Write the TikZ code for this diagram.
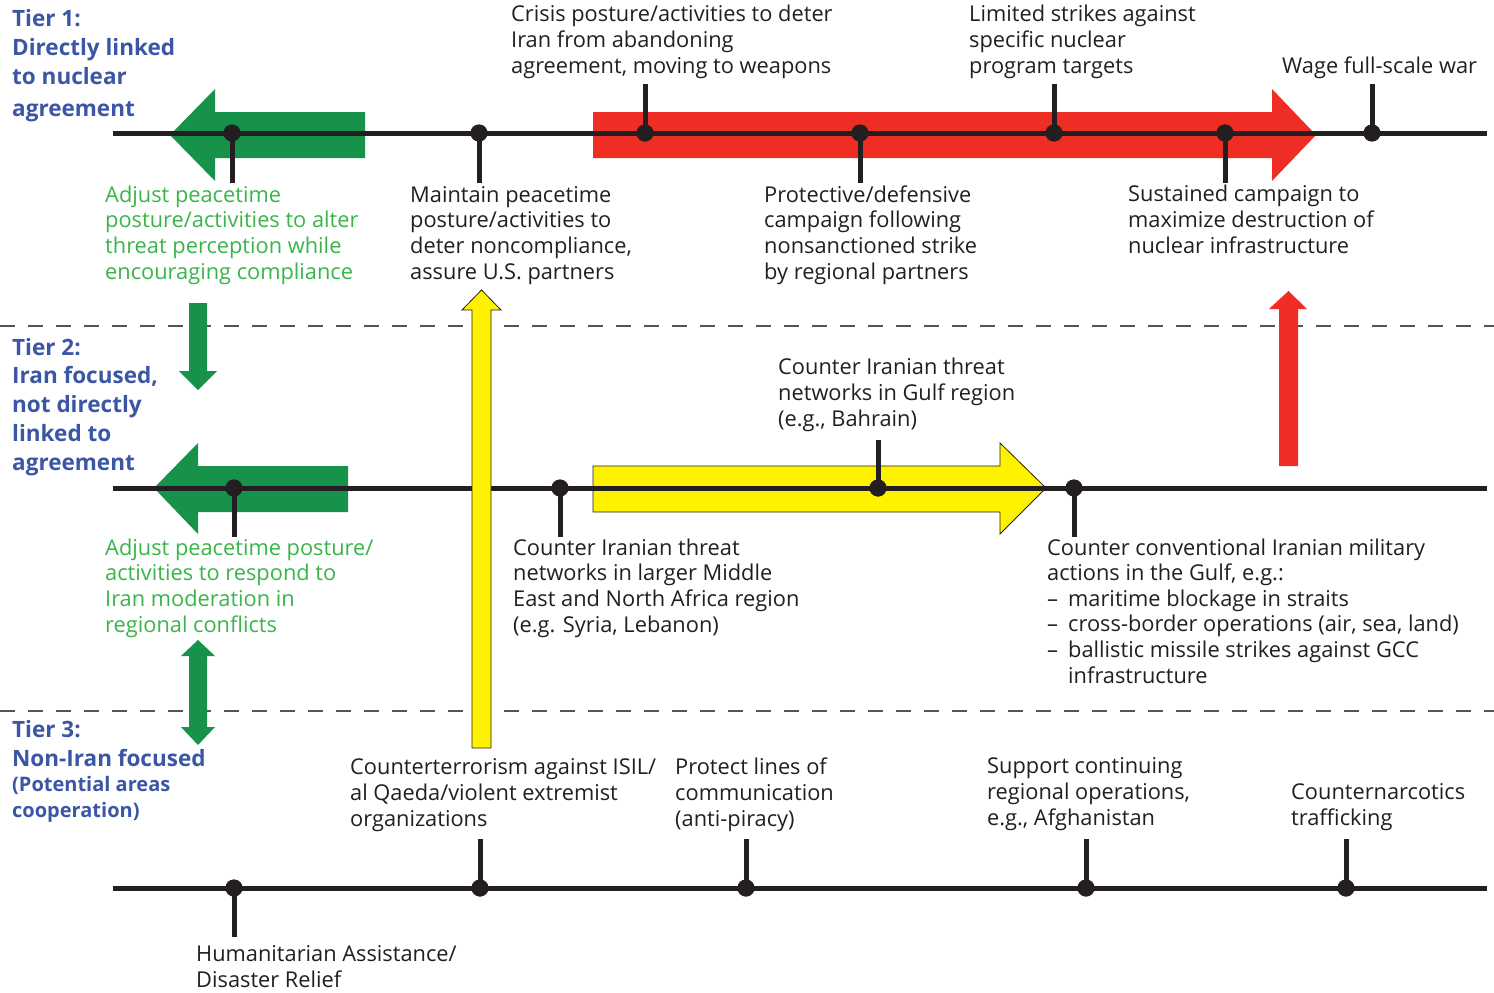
\documentclass[tikz,border=0pt]{standalone}
\usepackage{fontspec}
\setmainfont{Open Sans}
\definecolor{ink}{HTML}{231F20}
\definecolor{gfill}{HTML}{17924A}
\definecolor{gtext}{HTML}{3AB54A}
\definecolor{rfill}{HTML}{EE2D24}
\definecolor{yfill}{HTML}{FFF200}
\definecolor{tblue}{HTML}{3C56A6}
\definecolor{dgray}{HTML}{555555}
\begin{document}
\begin{tikzpicture}[x=1pt,y=-1pt,
  tline/.style={line width=5pt, draw=ink},
  stemline/.style={line width=5pt, draw=ink},
  dot/.style={circle, fill=ink, inner sep=0pt, minimum size=17pt},
  sep/.style={draw=dgray, line width=1.5pt, dash pattern=on 15pt off 13pt},
  lbl/.style={anchor=base west, align=left, inner sep=0pt, text=ink,
    font=\fontsize{21.8}{25.6}\selectfont},
  glbl/.style={lbl, text=gtext},
  tier/.style={anchor=base west, align=left, inner sep=0pt, text=tblue,
    font=\bfseries\fontsize{22.5}{28.7}\selectfont},
  tiersmall/.style={anchor=base west, align=left, inner sep=0pt, text=tblue,
    font=\bfseries\fontsize{20}{25.5}\selectfont},
  garrow/.style={fill=gfill, draw=none},
  rarrow/.style={fill=rfill, draw=none},
  yarrow/.style={fill=yfill, draw=ink, line width=0.8pt},
]
\useasboundingbox (0,0) rectangle (1494,993);
\fill[white] (0,0) rectangle (1494,993);

% separators
\coordinate (s1a) at (0,326); \coordinate (s1b) at (1494,326);
\coordinate (s2a) at (0,711); \coordinate (s2b) at (1494,711);
\draw[sep] (s1a) -- (s1b);
\draw[sep] (s2a) -- (s2b);

% horizontal band arrows
\path[garrow] (365,112) -- (215,112) -- (215,89) -- (170,135) -- (215,181) -- (215,158) -- (365,158) -- cycle;
\path[rarrow] (593,112) -- (1272,112) -- (1272,89) -- (1316,135) -- (1272,181) -- (1272,158) -- (593,158) -- cycle;
\path[garrow] (348,466) -- (198,466) -- (198,443) -- (154,488) -- (198,534) -- (198,512) -- (348,512) -- cycle;
\path[yarrow] (593,466) -- (1000,466) -- (1000,443) -- (1046,488) -- (1000,534) -- (1000,512) -- (593,512) -- cycle;

% timelines
\coordinate (t1a) at (113,133); \coordinate (t1b) at (1487,133);
\coordinate (t2a) at (113,488); \coordinate (t2b) at (1487,488);
\coordinate (t3a) at (113,888); \coordinate (t3b) at (1487,888);
\draw[tline] (t1a) -- (t1b);
\draw[tline] (t2a) -- (t2b);
\draw[tline] (t3a) -- (t3b);

% vertical arrows
\path[yarrow] (472,748) -- (472,310) -- (462,310) -- (481.5,290) -- (501,310) -- (491,310) -- (491,748) -- cycle;
\path[rarrow] (1279,466) -- (1279,309) -- (1269,309) -- (1288.5,291) -- (1307,309) -- (1298,309) -- (1298,466) -- cycle;
\path[garrow] (189,303) -- (189,371) -- (179,371) -- (198,390) -- (217,371) -- (207,371) -- (207,303) -- cycle;
\path[garrow] (189,656) -- (181,656) -- (198,640) -- (215,656) -- (207,656) -- (207,727) -- (215,727) -- (198,745) -- (181,727) -- (189,727) -- cycle;

% tier 1 dots
\node[dot] (a1) at (232,133) {};
\node[dot] (a2) at (479,133) {};
\node[dot] (a3) at (645,133) {};
\node[dot] (a4) at (860,133) {};
\node[dot] (a5) at (1054,133) {};
\node[dot] (a6) at (1225,133) {};
\node[dot] (a7) at (1372,133) {};
\coordinate (e1) at (232,183);
\coordinate (e2) at (479,183);
\coordinate (e3) at (645,84);
\coordinate (e4) at (860,183);
\coordinate (e5) at (1054,84);
\coordinate (e6) at (1225,183);
\coordinate (e7) at (1372,84);
\foreach \i in {1,...,7} \draw[stemline] (a\i.center) -- (e\i);

% tier 2 dots
\node[dot] (b1) at (234,488) {};
\node[dot] (b2) at (560,488) {};
\node[dot] (b3) at (878,488) {};
\node[dot] (b4) at (1074,488) {};
\coordinate (f1) at (234,537);
\coordinate (f2) at (560,537);
\coordinate (f3) at (878,440);
\coordinate (f4) at (1074,537);
\foreach \i in {1,...,4} \draw[stemline] (b\i.center) -- (f\i);

% tier 3 dots
\node[dot] (c1) at (234,888) {};
\node[dot] (c2) at (480,888) {};
\node[dot] (c3) at (746,888) {};
\node[dot] (c4) at (1086,888) {};
\node[dot] (c5) at (1346,888) {};
\coordinate (g1) at (234,937);
\coordinate (g2) at (480,839);
\coordinate (g3) at (746,839);
\coordinate (g4) at (1086,839);
\coordinate (g5) at (1346,839);
\foreach \i in {1,...,5} \draw[stemline] (c\i.center) -- (g\i);

% redraw dots on top of stems
\foreach \n in {a1,a2,a3,a4,a5,a6,a7,b1,b2,b3,b4,c1,c2,c3,c4,c5}
  \fill[ink] (\n) circle (8.5pt);

% tier labels (positions are baselines of the last line)
\node[tier] (tier1) at (12,116) {Tier 1:\\Directly linked\\to nuclear\\[3pt]agreement};
\node[tier] (tier2) at (12,470) {Tier 2:\\Iran focused,\\not directly\\linked to\\agreement};
\node[tier] (tier3) at (12,766) {Tier 3:\\Non-Iran focused};
\node[tiersmall] (tier3b) at (12,817) {(Potential areas\\cooperation)};

% tier 1 labels
\node[glbl] (l1) at (105,279) {Adjust peacetime\\posture/activities to alter\\threat perception while\\encouraging compliance};
\node[lbl] (l2) at (410,279) {Maintain peacetime\\posture/activities to\\deter noncompliance,\\assure U.S. partners};
\node[lbl] (l3) at (511,73) {Crisis posture/activities to deter\\Iran from abandoning\\agreement, moving to weapons};
\node[lbl] (l4) at (764,279) {Protective/defensive\\campaign following\\nonsanctioned strike\\by regional partners};
\node[lbl] (l5) at (969,73) {Limited strikes against\\specific nuclear\\program targets};
\node[lbl] (l6) at (1128,253) {Sustained campaign to\\maximize destruction of\\nuclear infrastructure};
\node[lbl] (l7) at (1282,73) {Wage full-scale war};

% tier 2 labels
\node[glbl] (m1) at (105,632) {Adjust peacetime posture/\\activities to respond to\\Iran moderation in\\regional conflicts};
\node[lbl] (m2) at (513,632) {Counter Iranian threat\\networks in larger Middle\\East and North Africa region\\(e.g. Syria, Lebanon)};
\node[lbl] (m3) at (778,426) {Counter Iranian threat\\networks in Gulf region\\(e.g., Bahrain)};
\node[lbl] (m4) at (1047,683) {Counter conventional Iranian military\\actions in the Gulf, e.g.:\\
\makebox[21pt][l]{--}maritime blockage in straits\\
\makebox[21pt][l]{--}cross-border operations (air, sea, land)\\
\makebox[21pt][l]{--}ballistic missile strikes against GCC\\
\hspace*{21pt}infrastructure};

% tier 3 labels
\node[lbl] (n1) at (196,987) {Humanitarian Assistance/\\Disaster Relief};
\node[lbl] (n2) at (350,826) {Counterterrorism against ISIL/\\al Qaeda/violent extremist\\organizations};
\node[lbl] (n3) at (675,826) {Protect lines of\\communication\\(anti-piracy)};
\node[lbl] (n4) at (987,825) {Support continuing\\regional operations,\\e.g., Afghanistan};
\node[lbl] (n5) at (1291,825) {Counternarcotics\\trafficking};
\end{tikzpicture}
\end{document}
